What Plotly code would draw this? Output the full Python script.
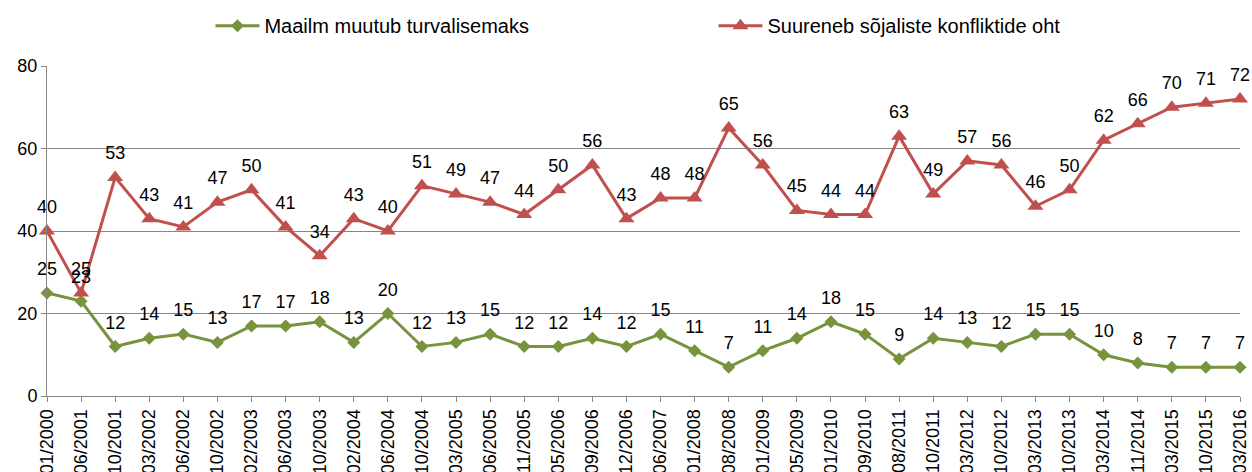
import plotly.graph_objects as go

categories = ["01/2000", "06/2001", "10/2001", "03/2002", "06/2002", "10/2002", "02/2003",
              "06/2003", "10/2003", "02/2004", "06/2004", "10/2004", "03/2005", "06/2005",
              "11/2005", "05/2006", "09/2006", "12/2006", "06/2007", "01/2008", "08/2008",
              "01/2009", "05/2009", "01/2010", "09/2010", "08/2011", "10/2011", "03/2012",
              "10/2012", "03/2013", "10/2013", "03/2014", "11/2014", "03/2015", "10/2015",
              "03/2016"]

safer = [25, 23, 12, 14, 15, 13, 17, 17, 18, 13, 20, 12, 13, 15, 12, 12, 14, 12, 15, 11,
         7, 11, 14, 18, 15, 9, 14, 13, 12, 15, 15, 10, 8, 7, 7, 7]

conflict = [40, 25, 53, 43, 41, 47, 50, 41, 34, 43, 40, 51, 49, 47, 44, 50, 56, 43, 48, 48,
            65, 56, 45, 44, 44, 63, 49, 57, 56, 46, 50, 62, 66, 70, 71, 72]

name_safer = "Maailm muutub turvalisemaks"
name_conflict = "Suureneb sõjaliste konfliktide oht"

GREEN = "#77933C"
RED = "#C0504D"
GREY = "#868686"
FONT = "Liberation Sans, Arial, sans-serif"

fig = go.Figure()
for name, vals, color, sym, size in [
    (name_safer, safer, GREEN, "diamond", 10),
    (name_conflict, conflict, RED, "triangle-up", 14),
]:
    fig.add_trace(go.Scatter(
        x=categories, y=vals, name=name, mode="lines+markers",
        line=dict(color=color, width=3),
        marker=dict(symbol=sym, size=size, color=color),
        cliponaxis=False,
    ))

# data labels (transparent larger markers give the label offset above the point)
for vals in (safer, conflict):
    fig.add_trace(go.Scatter(
        x=categories, y=vals, mode="markers+text", showlegend=False, hoverinfo="skip",
        marker=dict(size=20, color="rgba(0,0,0,0)"),
        text=[str(v) for v in vals], textposition="top center",
        textfont=dict(size=18, color="#000000", family=FONT), cliponaxis=False,
    ))

fig.update_layout(
    width=1252, height=472,
    margin=dict(l=47, r=12, t=66, b=76, autoexpand=False),
    paper_bgcolor="white", plot_bgcolor="white",
    font=dict(family=FONT, size=18, color="#000000"),
    showlegend=True,
    legend=dict(orientation="h", xref="container", yref="container",
                x=0.1681, y=0.987, xanchor="left", yanchor="top",
                entrywidth=444, itemwidth=44,
                font=dict(size=20, family=FONT, color="#000000")),
    xaxis=dict(type="category", range=[0, len(categories) - 1],
               tickangle=-90, tickfont=dict(size=18),
               showgrid=False, showline=True, linecolor=GREY, linewidth=1,
               ticks="outside", ticklen=5, tickcolor=GREY, automargin=False),
    yaxis=dict(range=[0, 80], tickvals=[0, 20, 40, 60, 80],
               showgrid=True, gridcolor=GREY, gridwidth=1,
               showline=True, linecolor=GREY, linewidth=1,
               ticks="outside", ticklen=5, tickcolor=GREY,
               zeroline=False, automargin=False, tickfont=dict(size=18)),
)

fig.write_html(
    "out.html",
    config={"displayModeBar": False},
    post_script="document.body.style.margin='0';document.body.style.overflow='hidden';",
)
